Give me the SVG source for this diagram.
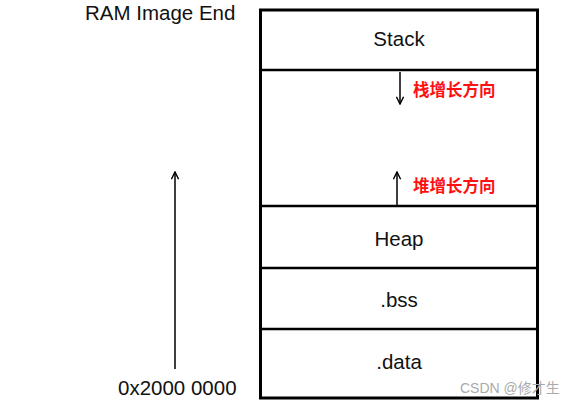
<svg xmlns="http://www.w3.org/2000/svg" width="575" height="405" viewBox="0 0 575 405">
<defs>
<style>
.lbl{font-family:"Liberation Sans",Arial,sans-serif;font-size:20.5px;fill:#111;text-anchor:middle}
.side{font-family:"Liberation Sans",Arial,sans-serif;font-size:20.5px;fill:#111}
.red{font-family:"Liberation Serif","Noto Sans CJK SC",serif;font-size:16.5px;fill:#ff1010;font-weight:bold}
.box{fill:#fff;stroke:#000;stroke-width:3}
.div{stroke:#000;stroke-width:2.5}
.arr{stroke:#000;stroke-width:1.5;fill:none}
.wm{font-family:"Liberation Sans","Noto Sans CJK SC",sans-serif;font-size:14px;fill:#aaa}
</style>
<marker id="ah" viewBox="0 0 10 10" refX="9" refY="5" markerWidth="9" markerHeight="9" orient="auto" markerUnits="userSpaceOnUse">
<path d="M1,1 L9,5 L1,9" fill="none" stroke="#000" stroke-width="1.6"/>
</marker>
</defs>
<rect width="575" height="405" fill="#fff"/>
<g id="memory">
<rect class="box" x="260.5" y="10" width="277" height="388"/>
</g>
<g id="stack"><text class="lbl" x="399" y="46">Stack</text></g>
<g id="free"></g>
<g id="heap"><text class="lbl" x="399" y="246">Heap</text></g>
<g id="bss"><text class="lbl" x="399" y="307">.bss</text></g>
<g id="data"><text class="lbl" x="399" y="369">.data</text></g>
<g id="dividers">
<line class="div" x1="260" y1="70" x2="538" y2="70" stroke-width="4"/>
<line class="div" x1="260" y1="206" x2="538" y2="206" stroke-width="3"/>
<line class="div" x1="260" y1="268" x2="538" y2="268" stroke-width="2"/>
<line class="div" x1="260" y1="329" x2="538" y2="329" stroke-width="3"/>
</g>
<g id="connectors">
<line class="arr" x1="400" y1="72" x2="400" y2="104" marker-end="url(#ah)"/>
<line class="arr" x1="397" y1="205" x2="397" y2="172" marker-end="url(#ah)"/>
<line class="arr" x1="175" y1="369" x2="175" y2="172" marker-end="url(#ah)"/>
</g>
<g id="labels">
<text class="red" x="413" y="96">栈增长方向</text>
<text class="red" x="413" y="192">堆增长方向</text>
<text class="side" x="85" y="20">RAM Image End</text>
<text class="side" x="118" y="395">0x2000 0000</text>
<text class="wm" x="460" y="393">CSDN @修才生</text>
</g>
</svg>
